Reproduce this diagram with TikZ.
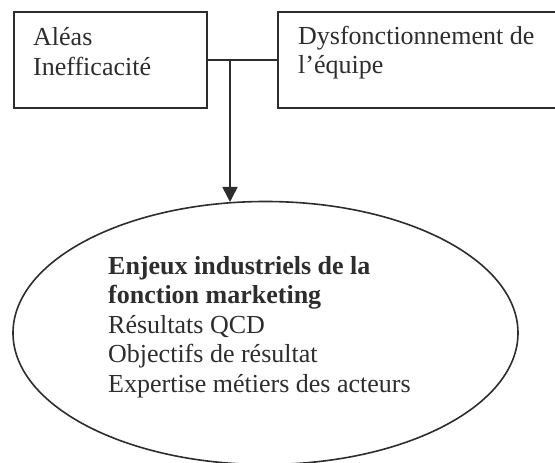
\documentclass[tikz,border=0pt]{standalone}
\usepackage{fontspec}
\setmainfont{Liberation Serif}
\usetikzlibrary{shapes.geometric,arrows.meta}
\definecolor{ink}{RGB}{45,45,45}
\tikzset{
  boxshape/.style={draw=ink, line width=1.6pt, rectangle, inner sep=0pt, anchor=north west},
  ovalshape/.style={draw=ink, line width=1.6pt, ellipse, inner sep=0pt, minimum width=505pt, minimum height=263pt},
  label text/.style={text=ink, inner sep=0pt, anchor=base west, align=left, font=\fontsize{26}{29.4}\selectfont},
  link/.style={draw=ink, line width=1.6pt},
  arrowlink/.style={link, -{Triangle[width=15pt,length=15pt]}}
}
\begin{document}
\begin{tikzpicture}[x=1pt,y=-1pt]
\useasboundingbox (0,0) rectangle (555,463);
\clip (0,0) rectangle (555,463);
\node[boxshape, minimum width=193pt, minimum height=96pt] (l) at (13,11) {};
\node[boxshape, minimum width=277.5pt, minimum height=96pt] (r) at (277,11) {};
\node[label text] (lt) at (33,75) {Aléas\\Inefficacité};
\node[label text] (rt) at (298,73.5) {Dysfonctionnement de\\l’équipe};
\node[ovalshape] (e) at (265.5,333) {};
\node[label text] (et) at (108,392) {\textbf{Enjeux industriels de la}\\\textbf{fonction marketing}\\Résultats QCD\\Objectifs de résultat\\Expertise métiers des acteurs};
\coordinate (j) at (230,59);
\path[link] (l.east) -- (r.west);
\path[arrowlink] (j) -- (j |- e.105.3);
\end{tikzpicture}
\end{document}
